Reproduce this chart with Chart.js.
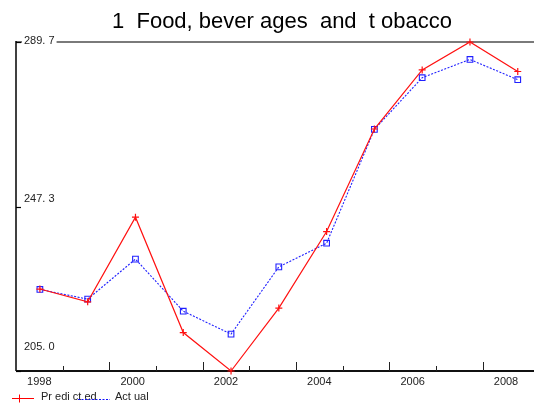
<!DOCTYPE html>
<html>
<head>
<meta charset="utf-8">
<script src="https://cdn.jsdelivr.net/npm/chart.js@4/dist/chart.umd.min.js"></script>
<style>
  html, body { margin: 0; padding: 0; background: #fff; overflow: hidden; }
  #wrap { width: 534px; height: 403px; position: relative; }
</style>
</head>
<body>
<div id="wrap"><canvas id="c" width="534" height="403"></canvas></div>
<script>
// Years on the horizontal axis
const years = [1998, 1999, 2000, 2001, 2002, 2003, 2004, 2005, 2006, 2007, 2008];
// Predicted series (red, plus markers)
const predicted = [226.1, 222.8, 244.6, 214.9, 205.0, 221.2, 240.9, 267.3, 282.5, 289.7, 282.1];
// Actual series (blue dotted, square markers)
const actual = [226.0, 223.5, 233.8, 220.4, 214.5, 231.8, 237.9, 267.2, 280.5, 285.2, 280.0];
// Vertical axis tick values and their printed labels
const yTickValues = [205.0, 247.3, 289.7];
const yTickLabels = ['205. 0', '247. 3', '289. 7'];
// Horizontal axis labelled years and the half-year tick marks
const xLabelYears = [1998, 2000, 2002, 2004, 2006, 2008];
const xTickMarks = [1998.5, 1999.5, 2000.5, 2001.5, 2002.5, 2003.5, 2004.5, 2005.5, 2006.5, 2007.5];

const titleText = '1  Food, bever ages  and  t obacco';
const legendPredicted = 'Pr edi ct ed';
const legendActual = 'Act ual';

const FONT = '"Liberation Sans", Arial, sans-serif';

const toPoints = arr => arr.map((v, i) => ({ x: years[i], y: v }));

// Title, axes, tick marks, labels and legend drawn around the plot
const framePlugin = {
  id: 'frame',
  beforeDatasetsDraw(chart) {
    const ctx = chart.ctx;
    const area = chart.chartArea;
    const y = chart.scales.y;
    const xt = chart.scales.xt;
    ctx.save();
    // title
    ctx.font = '22px ' + FONT;
    ctx.fillStyle = '#000';
    ctx.textAlign = 'center';
    ctx.textBaseline = 'alphabetic';
    ctx.fillText(titleText, 282, 27.5);
    // gray reference line at the top value
    const yTop = Math.round(y.getPixelForValue(yTickValues[2]));
    ctx.strokeStyle = '#7a7a7a';
    ctx.lineWidth = 2;
    ctx.beginPath();
    ctx.moveTo(area.left, yTop);
    ctx.lineTo(area.right, yTop);
    ctx.stroke();
    // vertical axis
    ctx.strokeStyle = '#000';
    ctx.lineWidth = 1.5;
    ctx.beginPath();
    ctx.moveTo(area.left, yTop - 1);
    ctx.lineTo(area.left, area.bottom);
    ctx.stroke();
    // horizontal axis
    const yBot = Math.round(y.getPixelForValue(yTickValues[0]));
    ctx.lineWidth = 2;
    ctx.strokeStyle = '#111';
    ctx.beginPath();
    ctx.moveTo(area.left, yBot);
    ctx.lineTo(area.right, yBot);
    ctx.stroke();
    // half-year tick marks, alternating short and long, pointing up
    ctx.lineWidth = 1;
    ctx.strokeStyle = '#222';
    xTickMarks.forEach((v, i) => {
      const px = Math.round(xt.getPixelForValue(v)) + 0.5;
      const len = i % 2 === 0 ? 5 : 9;
      ctx.beginPath();
      ctx.moveTo(px, yBot);
      ctx.lineTo(px, yBot - len);
      ctx.stroke();
    });
    // vertical axis ticks
    ctx.lineWidth = 1.2;
    ctx.strokeStyle = '#000';
    yTickValues.forEach(v => {
      const py = Math.round(y.getPixelForValue(v)) + 0.5;
      ctx.beginPath();
      ctx.moveTo(area.left, py);
      ctx.lineTo(area.left + 5, py);
      ctx.stroke();
    });
    // vertical axis labels, drawn inside the plot
    ctx.font = '11px ' + FONT;
    ctx.textBaseline = 'middle';
    ctx.textAlign = 'left';
    const labelOffsets = [-24, -8, -1];
    yTickValues.forEach((v, i) => {
      const py = y.getPixelForValue(v) + labelOffsets[i];
      const w = ctx.measureText(yTickLabels[i]).width;
      if (i === 2) {
        ctx.fillStyle = '#fff';
        ctx.fillRect(area.left + 6, py - 5, w + 4, 10);
      }
      ctx.fillStyle = '#222';
      ctx.fillText(yTickLabels[i], area.left + 8, py);
    });
    // year labels under the axis
    ctx.textAlign = 'center';
    ctx.textBaseline = 'middle';
    xLabelYears.forEach(v => {
      ctx.fillText(String(v), xt.getPixelForValue(v), yBot + 11);
    });
    ctx.restore();
  },
  afterDraw(chart) {
    const ctx = chart.ctx;
    ctx.save();
    const ly = 398.5;
    // predicted legend sample
    ctx.strokeStyle = '#ff0000';
    ctx.lineWidth = 1;
    ctx.beginPath();
    ctx.moveTo(12, ly);
    ctx.lineTo(34, ly);
    ctx.moveTo(19.5, ly - 4);
    ctx.lineTo(19.5, ly + 4);
    ctx.stroke();
    ctx.font = '11px ' + FONT;
    ctx.fillStyle = '#222';
    ctx.textBaseline = 'middle';
    ctx.textAlign = 'left';
    ctx.fillText(legendPredicted, 41, ly - 2);
    // actual legend sample
    ctx.strokeStyle = '#1010ff';
    ctx.setLineDash([2, 1.5]);
    ctx.beginPath();
    ctx.moveTo(78, ly + 1);
    ctx.lineTo(110, ly + 1);
    ctx.stroke();
    ctx.setLineDash([]);
    ctx.fillText(legendActual, 115, ly - 2);
    ctx.restore();
  }
};

new Chart(document.getElementById('c'), {
  type: 'line',
  data: {
    datasets: [
      {
        label: 'Predicted',
        data: toPoints(predicted),
        borderColor: '#ff1010',
        backgroundColor: '#ff1010',
        borderWidth: 1.2,
        pointStyle: 'cross',
        pointRadius: 3.5,
        pointBorderWidth: 1.2,
        tension: 0,
        clip: false,
        xAxisID: 'x',
        yAxisID: 'y'
      },
      {
        label: 'Actual',
        data: toPoints(actual),
        borderColor: '#2020ff',
        backgroundColor: 'rgba(255,255,255,0)',
        borderWidth: 1.1,
        borderDash: [2, 1.5],
        pointStyle: 'rect',
        pointRadius: 4,
        pointBorderWidth: 1.1,
        tension: 0,
        clip: false,
        xAxisID: 'x',
        yAxisID: 'y'
      }
    ]
  },
  options: {
    responsive: false,
    animation: false,
    events: [],
    layout: { autoPadding: false, padding: { left: 16, right: 0, top: 42, bottom: 32 } },
    scales: {
      x: { type: 'linear', min: 1997.5, max: 2008.34, display: false },
      xt: { type: 'linear', axis: 'x', position: 'bottom', min: 1997.5, max: 2008.6, display: false },
      y: { type: 'linear', min: 205.0, max: 289.7, display: false }
    },
    plugins: {
      legend: { display: false },
      tooltip: { enabled: false },
      title: { display: false }
    }
  },
  plugins: [framePlugin]
});
</script>
</body>
</html>
